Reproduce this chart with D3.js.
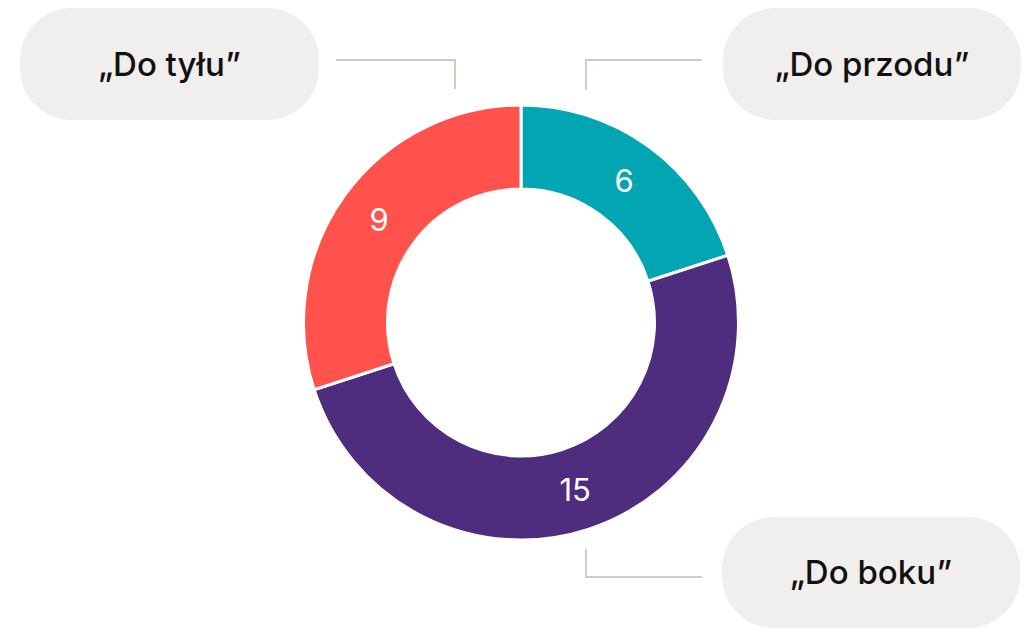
<!DOCTYPE html>
<html>
<head>
<meta charset="utf-8">
<script src="https://cdn.jsdelivr.net/npm/d3@7"></script>
<style>
  html, body { margin: 0; padding: 0; background: #fff; }
  svg { display: block; font-family: Inter, Lato, "Noto Sans", sans-serif; }
</style>
</head>
<body>
<div id="chart"></div>
<script>
// data
const categories = ['„Do przodu”', '„Do boku”', '„Do tyłu”'];
const values = [6, 15, 9];
const colors = ['#02a6b3', '#4f2d7e', '#ff524c'];

const width = 1026, height = 629;
const cx = 521, cy = 322.5;
const outerR = 217.5, innerR = 133.5;

const svg = d3.select('#chart').append('svg')
  .attr('width', width)
  .attr('height', height);

// callout pills: box + elbow connector
const callouts = [
  { x: 723, y: 8, w: 298, h: 112, line: [[702, 60], [586, 60], [586, 90]] },
  { x: 722, y: 517, w: 298, h: 111, line: [[702, 577], [586, 577], [586, 549]] },
  { x: 20, y: 8, w: 299, h: 112, line: [[336, 60], [455, 60], [455, 89]] }
];

const pie = d3.pie().value(d => d).sort(null);
const arc = d3.arc().innerRadius(innerR).outerRadius(outerR);
const arcs = pie(values);

const g = svg.append('g').attr('transform', `translate(${cx},${cy})`);

g.selectAll('path.slice')
  .data(arcs)
  .enter()
  .append('path')
  .attr('class', 'slice')
  .attr('d', arc)
  .attr('fill', (d, i) => colors[i])
  .attr('stroke', '#fff')
  .attr('stroke-width', 3)
  .attr('stroke-linejoin', 'miter');

g.selectAll('text.val')
  .data(arcs)
  .enter()
  .append('text')
  .attr('class', 'val')
  .attr('transform', d => `translate(${arc.centroid(d)})`)
  .attr('text-anchor', 'middle')
  .attr('dy', '0.36em')
  .attr('fill', '#fff')
  .attr('font-size', 31)
  .attr('font-weight', 400)
  .text(d => d.data);

// pills
const pill = svg.selectAll('g.pill')
  .data(callouts)
  .enter()
  .append('g')
  .attr('class', 'pill');

pill.append('rect')
  .attr('x', d => d.x)
  .attr('y', d => d.y)
  .attr('width', d => d.w)
  .attr('height', d => d.h)
  .attr('rx', 52)
  .attr('fill', '#f0efed');

pill.append('text')
  .attr('x', d => d.x + d.w / 2)
  .attr('y', d => d.y + d.h / 2)
  .attr('dy', '0.36em')
  .attr('text-anchor', 'middle')
  .attr('fill', '#111')
  .attr('font-size', 33)
  .attr('font-weight', 500)
  .text((d, i) => categories[i]);

pill.append('path')
  .attr('d', d => d3.line()(d.line))
  .attr('fill', 'none')
  .attr('stroke', '#d2c9c2')
  .attr('stroke-width', 2);
</script>
</body>
</html>
